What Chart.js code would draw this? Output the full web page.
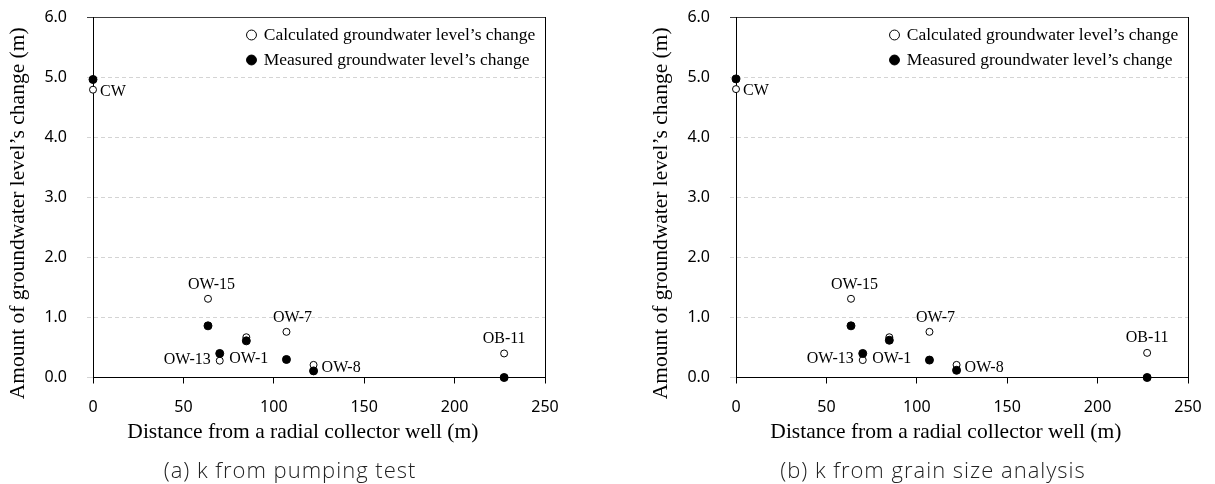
<!DOCTYPE html>
<html><head><meta charset="utf-8">
<script src="https://cdn.jsdelivr.net/npm/chart.js@4.4.1/dist/chart.umd.min.js"></script>
<style>
html,body{margin:0;padding:0;background:#fff;width:1215px;height:484px;overflow:hidden;}
.panel{position:absolute;top:0;width:572px;height:484px;}
.panel canvas{position:absolute;left:0;top:0;}
.cap{position:absolute;top:455px;line-height:28px;font-family:"Open Sans","Noto Sans",sans-serif;font-weight:300;font-size:22px;letter-spacing:1px;color:#222;white-space:nowrap;transform:translateX(-50%);}
</style></head><body>
<div class="panel" style="left:0px"><canvas id="chartA" width="572" height="484"></canvas><div class="cap" style="left:290px">(a) k from pumping test</div></div>
<div class="panel" style="left:643px"><canvas id="chartB" width="572" height="484"></canvas><div class="cap" style="left:290px">(b) k from grain size analysis</div></div>
<script>
// ---- data ----
const wells = ['CW', 'OW-15', 'OW-13', 'OW-1', 'OW-7', 'OW-8', 'OB-11'];
const distance = [0, 63.6, 70.1, 84.8, 107, 122, 227.4];
const calcA = [4.79, 1.31, 0.28, 0.67, 0.76, 0.21, 0.40];
const measA = [4.96, 0.86, 0.40, 0.61, 0.30, 0.11, 0.00];
const calcB = [4.80, 1.31, 0.29, 0.67, 0.76, 0.21, 0.41];
const measB = [4.97, 0.86, 0.40, 0.62, 0.29, 0.12, 0.00];
const xTicks = [0, 50, 100, 150, 200, 250];
const yTicks = [0, 1, 2, 3, 4, 5, 6];

// ---- styling / placement ----
const SERIF = '"Liberation Serif", "Times New Roman", serif';
const SANS = '"Noto Sans", sans-serif';
const labelPlacement = [
  {dx: 7, dy: 2, align: 'left'},
  {dx: 3.5, dy: -14, align: 'center'},
  {dx: -9, dy: -1, align: 'right'},
  {dx: 2.5, dy: 22, align: 'center'},
  {dx: 6, dy: -14, align: 'center'},
  {dx: 8, dy: 3, align: 'left'},
  {dx: 0, dy: -15, align: 'center'}
];

const wellLabelPlugin = {
  id: 'wellLabels',
  afterDatasetsDraw(chart) {
    const {ctx} = chart;
    const xs = chart.scales.x, ys = chart.scales.y;
    const pts = chart.data.datasets[0].data;
    ctx.save();
    ctx.font = '16px ' + SERIF;
    ctx.fillStyle = '#000';
    ctx.textBaseline = 'middle';
    wells.forEach((name, i) => {
      const p = labelPlacement[i];
      ctx.textAlign = p.align;
      ctx.fillText(name, xs.getPixelForValue(pts[i].x) + p.dx, ys.getPixelForValue(pts[i].y) + p.dy);
    });
    ctx.restore();
  }
};

const legendPlacer = {
  id: 'legendPlacer',
  afterLayout(chart) {
    const lg = chart.legend;
    if (!lg) return;
    const w = lg.width, h = lg.height;
    lg.left = chart.chartArea.left + 147.5;
    lg.right = lg.left + w;
    lg.top = 18.75;
    lg.bottom = lg.top + h;
  }
};

function gridY(c) { return c.tick && c.tick.value === 6 ? '#404040' : '#d4d4d4'; }
function dashY(c) { return (c.tick && c.tick.value > 0 && c.tick.value < 6) ? [4, 3] : []; }

function buildChart(id, calc, meas) {
  return new Chart(document.getElementById(id), {
    type: 'scatter',
    data: {
      datasets: [
        {
          label: 'Calculated groundwater level\u2019s change',
          data: distance.map((x, i) => ({x: x, y: calc[i]})),
          pointStyle: 'circle', pointRadius: 3.5,
          pointBackgroundColor: '#fff', pointBorderColor: '#000', pointBorderWidth: 1,
          order: 1, clip: false
        },
        {
          label: 'Measured groundwater level\u2019s change',
          data: distance.map((x, i) => ({x: x, y: meas[i]})),
          pointStyle: 'circle', pointRadius: 4,
          pointBackgroundColor: '#000', pointBorderColor: '#000', pointBorderWidth: 1,
          order: 0, clip: false
        }
      ]
    },
    options: {
      responsive: false, animation: false, events: [],
      layout: {padding: {left: 0, top: 17, right: 27, bottom: 34}},
      scales: {
        x: {
          type: 'linear', min: xTicks[0], max: xTicks[xTicks.length - 1],
          afterBuildTicks: s => { s.ticks = xTicks.map(v => ({value: v})); },
          ticks: {font: {family: SANS, size: 16}, color: '#000', padding: 14},
          grid: {color: c => (c.tick && c.tick.value === 250) ? '#000' : 'rgba(0,0,0,0)', tickColor: '#000', tickLength: 6, lineWidth: 1},
          border: {color: '#000', width: 1},
          title: {display: true, text: 'Distance from a radial collector well (m)      ', font: {family: SERIF, size: 21.5}, color: '#000', padding: {top: 0, bottom: 5.1}},
          afterFit: s => { s.height = 72.5; s.paddingLeft = 8; s.paddingRight = 8; }
        },
        y: {
          type: 'linear', min: yTicks[0], max: yTicks[yTicks.length - 1],
          afterBuildTicks: s => { s.ticks = yTicks.map(v => ({value: v})); },
          ticks: {font: {family: SANS, size: 16}, color: '#000', padding: 20, callback: v => Number(v).toFixed(1)},
          grid: {color: gridY, tickColor: gridY, tickLength: 6, lineWidth: 1, tickBorderDash: dashY},
          border: {color: '#000', width: 1, dash: dashY},
          title: {display: true, text: 'Amount of groundwater level\u2019s change (m)      ', font: {family: SERIF, size: 21.5}, color: '#000', padding: {top: 5, bottom: 0}},
          afterFit: s => { s.width = 93; s.paddingTop = 10; s.paddingBottom = 10; }
        }
      },
      plugins: {
        legend: {
          position: 'chartArea', align: 'start',
          labels: {
            usePointStyle: true, boxHeight: 7, boxWidth: 7, padding: 7.5,
            font: {family: SERIF, size: 17.5}, color: '#000',
            sort: (a, b) => a.datasetIndex - b.datasetIndex
          }
        },
        tooltip: {enabled: false}
      }
    },
    plugins: [legendPlacer, wellLabelPlugin]
  });
}

buildChart('chartA', calcA, measA);
buildChart('chartB', calcB, measB);
</script>
</body></html>
